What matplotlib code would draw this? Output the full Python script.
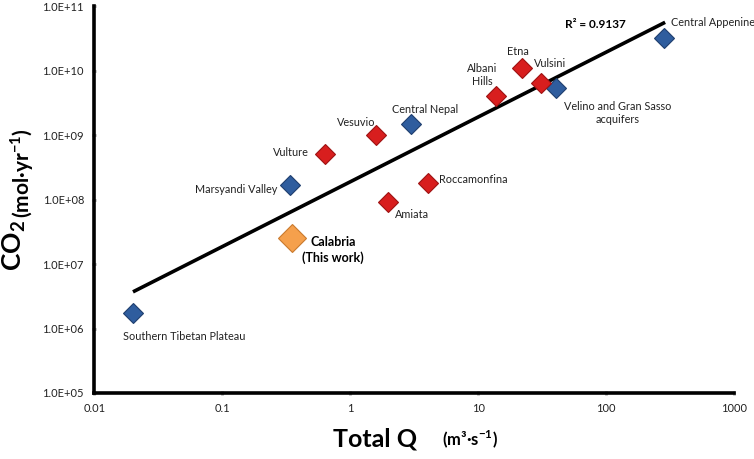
import numpy as np
import matplotlib
matplotlib.use("Agg")
import matplotlib.pyplot as plt
from matplotlib.ticker import FixedLocator, FixedFormatter

plt.rcParams['font.family'] = ['Lato', 'DejaVu Sans']
plt.rcParams['mathtext.fontset'] = 'custom'
plt.rcParams['mathtext.rm'] = 'Lato'
plt.rcParams['mathtext.bf'] = 'Lato:bold'

# data
names = ["Southern Tibetan Plateau", "Marsyandi Valley", "Central Nepal",
         "Velino and Gran Sasso\nacquifers", "Central Appenine",
         "Vulture", "Vesuvio", "Amiata", "Roccamonfina", "Albani\nHills",
         "Etna", "Vulsini"]
total_q = [0.02, 0.336, 2.97, 41, 286,
           0.63, 1.58, 1.96, 4.03, 13.7, 21.9, 31.3]
co2 = [1.74e6, 1.68e8, 1.48e9, 5.4e9, 3.2e10,
       5.07e8, 1.0e9, 9.2e7, 1.8e8, 4.0e9, 1.1e10, 6.5e9]
group = ["b", "b", "b", "b", "b", "r", "r", "r", "r", "r", "r", "r"]

calabria_q = [0.35]
calabria_co2 = [2.5e7]

trend_q = [0.02, 290]
trend_co2 = [3.7e6, 5.6e10]

x_ticks = [0.01, 0.1, 1, 10, 100, 1000]
x_labels = ["0.01", "0.1", "1", "10", "100", "1000"]
y_ticks = [1e5, 1e6, 1e7, 1e8, 1e9, 1e10, 1e11]
y_labels = ["1.0E+05", "1.0E+06", "1.0E+07", "1.0E+08", "1.0E+09", "1.0E+10", "1.0E+11"]

# label offsets in pixels (dx, dy, ha)
label_pos = [(51, -24, "center"), (-12, -5, "right"), (14, 15, "center"),
             (61, -25, "center"), (7, 15, "left"),
             (-16, 2, "right"), (-19, 13, "center"), (24, -13, "center"),
             (11, 4, "left"), (-13, 21, "center"), (-4, 16, "center"),
             (9, 19, "center")]

colors = {"b": ("#2F5D9E", "#1F3F6E"), "r": ("#D81E1E", "#9E1212")}

fig = plt.figure(figsize=(7.54, 4.59), dpi=100)
ax = fig.add_axes([0.1253, 0.1438, 0.848, 0.843])

ax.plot(trend_q, trend_co2, color="black", lw=2.6, solid_capstyle="butt", zorder=2)

for q, c, g in zip(total_q, co2, group):
    fc, ec = colors[g]
    ax.plot(q, c, marker="D", ms=10, mfc=fc, mec=ec, mew=0.8, ls="none", zorder=3)

ax.plot(calabria_q, calabria_co2, marker="D", ms=14, mfc="#F5A04C",
        mec="#C97A2E", mew=0.8, ls="none", zorder=3)

for n, q, c, (dx, dy, ha) in zip(names, total_q, co2, label_pos):
    ax.annotate(n, (q, c), xytext=(dx, dy), textcoords="offset pixels",
                ha=ha, va="center", fontsize=7.8, color="#222222",
                multialignment="center", linespacing=1.2)

ax.annotate("Calabria\n(This work)", (calabria_q[0], calabria_co2[0]),
            xytext=(41, -12), textcoords="offset pixels", ha="center",
            va="center", fontsize=9, fontweight="bold", linespacing=1.3)

ax.text(83, 5.1e10, "R² = 0.9137", ha="center", va="center",
        fontsize=8.5, fontweight="bold")

ax.set_xscale("log")
ax.set_yscale("log")
ax.set_xlim(0.01, 1000)
ax.set_ylim(1e5, 1e11)
ax.xaxis.set_major_locator(FixedLocator(x_ticks))
ax.xaxis.set_major_formatter(FixedFormatter(x_labels))
ax.yaxis.set_major_locator(FixedLocator(y_ticks))
ax.yaxis.set_major_formatter(FixedFormatter(y_labels))
ax.minorticks_off()
ax.tick_params(length=3, width=2, color="#999999", direction="inout",
               labelsize=8, labelcolor="#222222", pad=6)

for s in ["top", "right"]:
    ax.spines[s].set_visible(False)
for s in ["left", "bottom"]:
    ax.spines[s].set_linewidth(2.6)
    ax.spines[s].set_color("black")

fig.text(0.4975, 0.044, "Total Q", ha="center", va="center",
         fontsize=18, fontweight="bold")
fig.text(0.623, 0.044, r"(m³·s$^{\mathbf{-1}}$)", ha="center", va="center",
         fontsize=12, fontweight="bold")
fig.text(0.019, 0.466, r"CO$_{\mathbf{2}}$", ha="center", va="center",
         fontsize=19, fontweight="bold", rotation=90)
fig.text(0.029, 0.623, r"(mol·yr$^{\mathbf{-1}}$)", ha="center", va="center",
         fontsize=15, fontweight="bold", rotation=90)

fig.savefig("out.png", dpi=100)
